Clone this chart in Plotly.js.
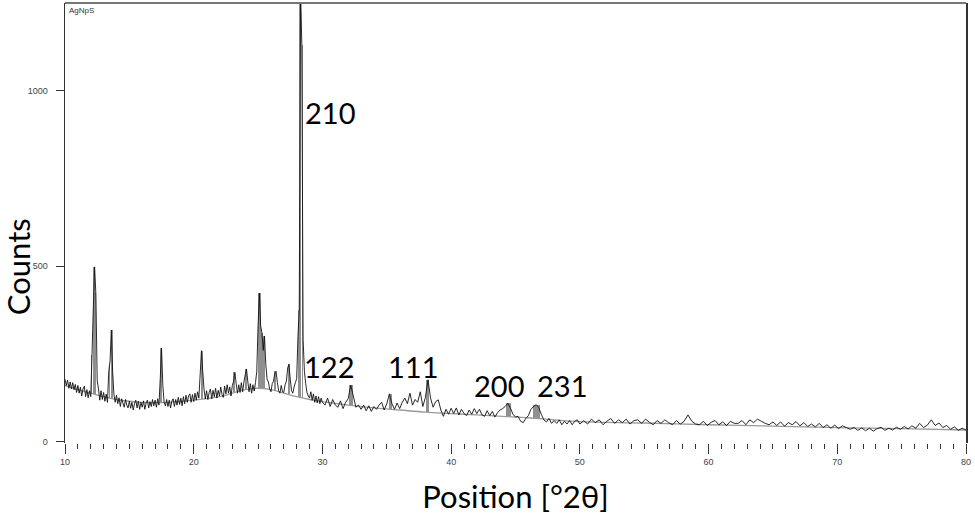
<!DOCTYPE html>
<html>
<head>
<meta charset="utf-8">
<script src="https://cdn.plot.ly/plotly-3.0.1.min.js"></script>
<style>
  html, body { margin: 0; padding: 0; background: #fff; }
  #chart { width: 975px; height: 519px; }
</style>
</head>
<body>
<div id="chart"></div>
<script>
// Scan segments: start angle, step, counts
const scanAStart = 10.0, scanAStep = 0.1;
const scanA = [
  178,160,175,152,170,150,168,148,163,140,
  160,138,155,130,150,158,128,148,125,145,
  128,250,380,498,420,175,150,118,145,120,
  140,115,135,112,200,230,318,200,135,112,
  132,108,125,100,122,110,98,120,104,96,
  115,95,112,90,108,118,96,115,92,112,
  98,116,92,110,118,96,114,100,120,102,
  118,98,122,104,180,266,160,112,102,120,
  100,118,96,115,122,100,120,104,126,106,
  124,102,128,108,132,112,130,136,112,134,
  114,138,118,142,124,190,259,200,150,122,
  145,120,140,150,122,146,128,152,124,146,
  130,155,134,126,158,136,162,138,156,130,
  160,172,197,165,138,162,140,168,142,170,
  190,207,172,142,165,138,162,144,168,200,
  330,423,330,310,260,301,220,178,170,150,
  142,165,172,195,200,168,145,138,160,142,
  140,162,172,210,220,178,145,138,156,168,
  180,300,375,1290,1130,290,200,165,140,130,
  124,142,118,136,112,130,110,128,108,124,
  112
];

const scanBStart = 30.2, scanBStep = 0.2;
const scanB = [
  104,124,100,120,104,
  98,116,94,112,122,
  161,130,98,104,92,
  104,88,102,86,100,
  92,104,112,90,108,
  136,108,92,110,94,
  112,124,108,138,104,
  120,112,142,100,126,
  176,124,98,114,119,
  90,72,92,78,95,
  80,96,76,92,80,
  74,90,78,94,80,
  92,76,72,88,74,
  86,70,82,90,94,
  100,109,96,78,70,
  72,58,54,66,74,
  92,100,105,98,78,
  62,56,66,52,60,
  52,62,48,58,50,
  60,48,58,62,50
];

const scanCStart = 50.3, scanCStep = 0.3;
const scanC = [
  60,50,64,54,62,48,58,66,52,62,
  54,64,50,60,62,52,64,55,48,60,
  52,62,54,48,60,50,58,76,58,50,
  48,58,46,55,60,48,56,46,58,52,
  52,60,48,62,54,64,58,52,48,56,
  46,56,44,54,48,57,45,54,43,50,
  42,52,40,48,38,47,37,45,40,35,
  40,32,39,31,38,30,37,41,32,38,
  33,41,35,43,36,45,38,52,40,47,
  62,46,53,40,46,35,42,32,38,33
];

// Fitted background
const bgX = [10,11,12,13,14,15,16,18,20,22,23,24,25,26,27,28,29,30,32,34,36,38,40,42,44,46,48,50,55,60,65,70,75,80];
const bgY = [160,148,138,128,120,115,112,112,118,128,138,148,152,148,138,128,120,114,104,96,90,84,80,76,72,68,62,57,53,48,44,40,37,33];

// Peak profile sticks
const stickPos  = [12.07,12.28,12.38,13.44,13.63,17.46,20.62,23.16,24.06,25.1,25.28,25.49,26.34,27.38,28.13,28.26,28.45,32.22,35.3,38.15,44.45,46.65];
const stickTop  = [247,498,423,218,318,266,259,197,207,423,310,301,200,220,375,1260,1130,161,136,176,109,105];
const stickBase = [138,136,135,125,124,112,121,140,148,152,152,150,145,135,127,126,124,103,92,84,71,66];
const stickWidth = [0.12,0.16,0.12,0.12,0.16,0.16,0.16,0.14,0.14,0.18,0.14,0.14,0.14,0.16,0.12,0.22,0.12,0.32,0.24,0.2,0.45,0.55];

// Reflection labels
const hklText = ['210','122','111','200','231'];
const hklX = [30.6,30.5,37.0,43.7,48.6];
const hklY = [939,215,213,159,159];

function expand(start, step, vals) {
  return vals.map((v, i) => +(start + i * step).toFixed(2));
}
const scanX = [].concat(
  expand(scanAStart, scanAStep, scanA),
  expand(scanBStart, scanBStep, scanB),
  expand(scanCStart, scanCStep, scanC)
);
const scanY = [].concat(scanA, scanB, scanC);

const traces = [
  {
    type: 'bar',
    x: stickPos,
    y: stickTop.map((t, i) => t - stickBase[i]),
    base: stickBase,
    width: stickWidth,
    marker: { color: '#8f8f8f', line: { width: 0 } },
    hoverinfo: 'skip'
  },
  {
    type: 'scatter',
    mode: 'lines',
    x: bgX,
    y: bgY,
    line: { color: '#9a9a9a', width: 1.3, shape: 'spline' },
    hoverinfo: 'skip'
  },
  {
    type: 'scatter',
    mode: 'lines',
    x: scanX,
    y: scanY,
    line: { color: '#111', width: 0.9, simplify: false },
    name: 'AgNpS'
  }
];

const labelFont = { family: 'Lato, "Open Sans", sans-serif', size: 29, color: '#000' };
const titleFont = { family: 'Lato, "Open Sans", sans-serif', size: 31, color: '#000' };
const tickFont = { family: '"Liberation Sans", Arial, sans-serif', size: 9, color: '#444' };

const annotations = hklText.map((t, i) => ({
  x: hklX[i], y: hklY[i], xref: 'x', yref: 'y',
  text: t, showarrow: false, font: labelFont
}));
annotations.push({
  x: 0, y: 1, xref: 'paper', yref: 'paper',
  xanchor: 'left', yanchor: 'top', xshift: 2, yshift: -1,
  text: 'AgNpS', showarrow: false,
  font: { family: '"Liberation Sans", Arial, sans-serif', size: 8, color: '#333' }
});
annotations.push({
  x: -0.052, y: 0.4, xref: 'paper', yref: 'paper',
  xanchor: 'center', yanchor: 'middle', textangle: -90,
  text: 'Counts', showarrow: false, font: titleFont
});

const layout = {
  width: 975,
  height: 519,
  margin: { l: 65, r: 9, t: 3, b: 76 },
  paper_bgcolor: '#fff',
  plot_bgcolor: '#fff',
  showlegend: false,
  bargap: 0,
  xaxis: {
    range: [10, 80],
    tickvals: [10, 20, 30, 40, 50, 60, 70, 80],
    ticks: 'outside',
    ticklen: 10,
    tickwidth: 1,
    tickcolor: '#333',
    tickfont: tickFont,
    minor: { dtick: 1, ticks: 'outside', ticklen: 5, tickwidth: 1, tickcolor: '#333' },
    showline: false,
    showgrid: false,
    zeroline: false,
    title: { text: 'Position [°2θ]', font: titleFont, standoff: 20 }
  },
  yaxis: {
    range: [-4, 1250],
    tickvals: [0, 500, 1000],
    ticks: 'outside',
    ticklen: 8,
    tickwidth: 1,
    tickcolor: '#333',
    tickfont: tickFont,
    ticklabelstandoff: 6,
    showline: true,
    linecolor: '#333',
    linewidth: 1.5,
    mirror: true,
    showgrid: false,
    zeroline: false
  },
  shapes: [
    { type: 'line', xref: 'paper', yref: 'paper', x0: 0, x1: 1, y0: 1, y1: 1,
      line: { color: '#777', width: 2 } }
  ],
  annotations: annotations
};

Plotly.newPlot('chart', traces, layout, { displayModeBar: false, staticPlot: true });
</script>
</body>
</html>
